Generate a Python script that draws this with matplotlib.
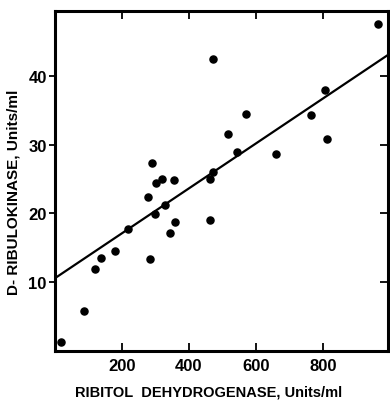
import matplotlib
matplotlib.use("Agg")
import matplotlib.pyplot as plt

# ribitol dehydrogenase (x) vs D-ribulokinase (y), Units/ml
rdh = [18, 86, 119, 137, 179, 219, 278, 283, 300, 328, 345, 360,
       291, 301, 321, 356, 473, 966, 807, 570, 765, 518, 544, 660,
       813, 473, 463, 463]
rk = [1.4, 5.8, 11.9, 13.5, 14.6, 17.8, 22.4, 13.4, 19.9, 21.2, 17.2, 18.7,
      27.3, 24.4, 25.0, 24.9, 42.5, 47.5, 38.0, 34.5, 34.3, 31.6, 28.9, 28.6,
      30.8, 26.0, 25.0, 19.0]

# fitted line
intercept = 10.6
slope = 0.0326
line_x = [0, 1000]

xticks = [200, 400, 600, 800]
yticks = [10, 20, 30, 40]

plt.rcParams['font.family'] = ['Liberation Sans', 'DejaVu Sans']

fig = plt.figure(figsize=(3.9, 4.02), dpi=100)
ax = fig.add_axes([0.141, 0.124, 0.854, 0.846])

ax.scatter(rdh, rk, s=26, color='black', zorder=3)
ax.plot(line_x, [intercept + slope * v for v in line_x], color='black', lw=1.6)

ax.set_xlim(0, 995)
ax.set_ylim(0, 49.4)
ax.set_xticks(xticks)
ax.set_yticks(yticks)
for s in ax.spines.values():
    s.set_linewidth(2.2)

ax.tick_params(axis='x', direction='in', top=True, length=6, width=1.3,
               labelsize=12, pad=5)
ax.tick_params(axis='y', direction='out', length=4, width=1.3,
               labelsize=12, pad=2)
ax.tick_params(axis='y', which='major', right=True)
for t in ax.yaxis.get_major_ticks():
    t.tick2line.set_marker(matplotlib.lines.TICKLEFT)
    t.tick2line.set_markersize(6)
for lab in ax.get_xticklabels() + ax.get_yticklabels():
    lab.set_fontweight('bold')

ax.set_xlabel("RIBITOL  DEHYDROGENASE, Units/ml", fontweight='bold',
              fontsize=10.5)
ax.set_ylabel("D- RIBULOKINASE, Units/ml", fontweight='bold',
              fontsize=11)
ax.xaxis.set_label_coords(0.46, -0.098)
ax.yaxis.set_label_coords(-0.103, 0.47)

fig.savefig("out.png", dpi=100)
